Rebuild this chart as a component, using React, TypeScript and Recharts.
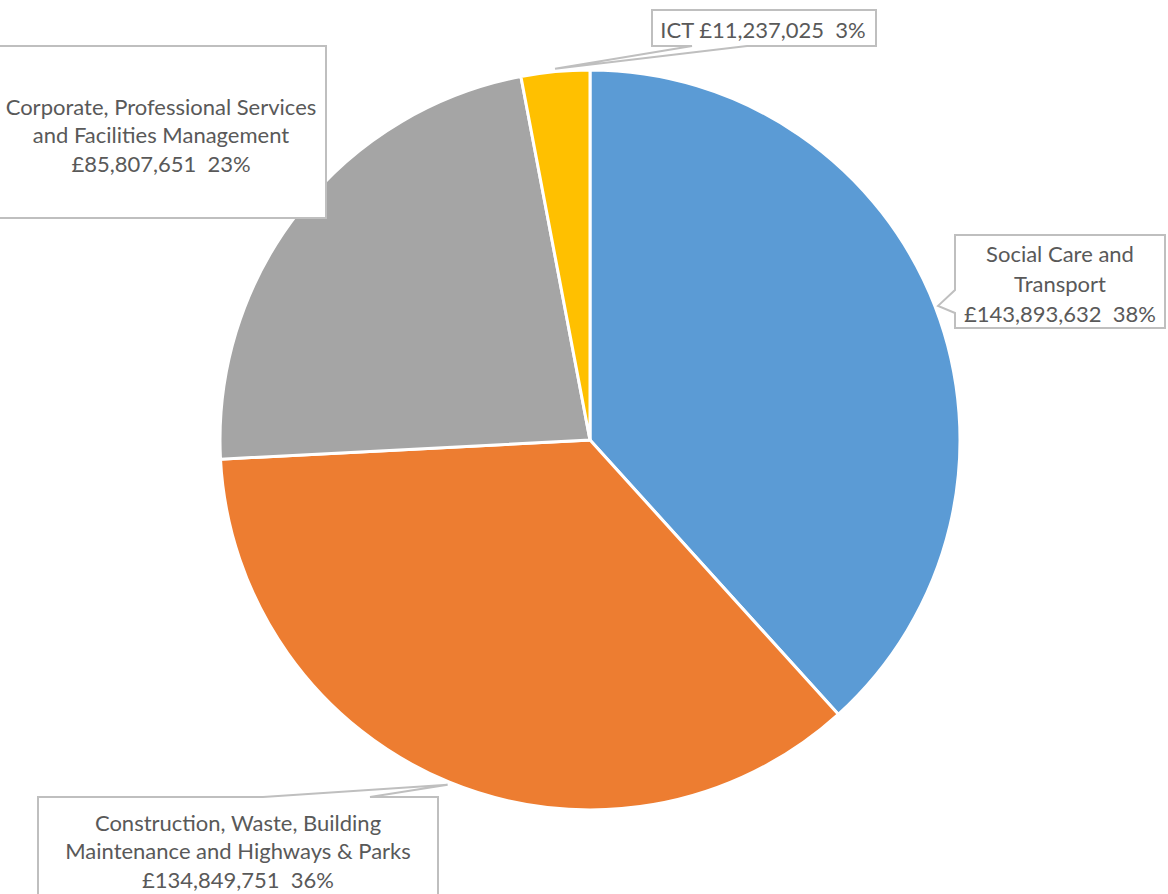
import React from "react";
import { PieChart, Pie, Cell } from "recharts";

const categories = [
  "Social Care and Transport",
  "Construction, Waste, Building Maintenance and Highways & Parks",
  "Corporate, Professional Services and Facilities Management",
  "ICT",
];
const labelLines = [
  ["Social Care and", "Transport"],
  ["Construction, Waste, Building", "Maintenance and Highways & Parks"],
  ["Corporate, Professional Services", "and Facilities Management"],
  ["ICT"],
];
const values = [143893632, 134849751, 85807651, 11237025];
const colors = ["#5B9BD5", "#ED7D31", "#A5A5A5", "#FFC000"];

const data = categories.map((name, i) => ({ name, value: values[i] }));

type Box = {
  x: number; y: number; w: number; h: number;
  side: "left" | "top" | "bottom" | null;
  b0: number; b1: number;
  tx: number; ty: number; lh: number; inline?: boolean;
};

const boxes: Box[] = [
  { x: 955, y: 235, w: 210, h: 93, side: "left", b0: 290, b1: 313, tx: 1060, ty: 253, lh: 30 },
  { x: 38, y: 797, w: 400, h: 120, side: "top", b0: 263, b1: 370, tx: 238, ty: 822, lh: 28.5 },
  { x: -2, y: 46, w: 328, h: 172, side: null, b0: 0, b1: 0, tx: 161, ty: 106, lh: 28.5 },
  { x: 652, y: 10, w: 224, h: 36, side: "bottom", b0: 692, b1: 747, tx: 763, ty: 29, lh: 28, inline: true },
];

const RAD = Math.PI / 180;

function boxPath(b: Box, tipX: number, tipY: number) {
  const { x, y, w, h } = b;
  const r = x + w, bt = y + h;
  if (b.side === "left") {
    return `M${x},${y} L${r},${y} L${r},${bt} L${x},${bt} L${x},${b.b1} L${tipX},${tipY} L${x},${b.b0} Z`;
  }
  if (b.side === "top") {
    return `M${x},${y} L${b.b0},${y} L${tipX},${tipY} L${b.b1},${y} L${r},${y} L${r},${bt} L${x},${bt} Z`;
  }
  if (b.side === "bottom") {
    return `M${x},${y} L${r},${y} L${r},${bt} L${b.b1},${bt} L${tipX},${tipY} L${b.b0},${bt} L${x},${bt} Z`;
  }
  return `M${x},${y} L${r},${y} L${r},${bt} L${x},${bt} Z`;
}

const fmt = (v: number) => "£" + v.toLocaleString("en-GB");

const renderLabel = (props: any) => {
  const { cx, cy, midAngle, outerRadius, index, value, percent } = props;
  const b = boxes[index];
  const tipX = cx + (outerRadius + 3) * Math.cos(-midAngle * RAD);
  const tipY = cy + (outerRadius + 3) * Math.sin(-midAngle * RAD);
  const valText = `${fmt(value)}\u00a0\u00a0${Math.round(percent * 100)}%`;
  const lines = b.inline
    ? [`${labelLines[index][0]} ${valText}`]
    : [...labelLines[index], valText];
  return (
    <g key={`lbl-${index}`}>
      <path d={boxPath(b, tipX, tipY)} fill="#ffffff" stroke="#bfbfbf" strokeWidth={2} strokeLinejoin="miter" />
      <text
        x={b.tx}
        y={b.ty}
        textAnchor="middle"
        fill="#595959"
        fontFamily="Lato, 'Open Sans', sans-serif"
        fontSize={22}
      >
        {lines.map((t, i) => (
          <tspan key={i} x={b.tx} y={b.ty + i * b.lh} dominantBaseline="central">
            {t}
          </tspan>
        ))}
      </text>
    </g>
  );
};

export default function App() {
  return (
    <div style={{ width: 1168, height: 894, background: "#ffffff" }}>
      <style>{`body{margin:0}`}</style>
      <PieChart width={1168} height={894} margin={{ top: 0, right: 0, bottom: 0, left: 0 }}>
        <Pie
          data={data}
          dataKey="value"
          nameKey="name"
          cx={590}
          cy={440}
          outerRadius={370}
          startAngle={90}
          endAngle={-270}
          stroke="#ffffff"
          strokeWidth={3}
          label={renderLabel}
          labelLine={false}
          isAnimationActive={false}
        >
          {data.map((d, i) => (
            <Cell key={d.name} fill={colors[i]} />
          ))}
        </Pie>
      </PieChart>
    </div>
  );
}
